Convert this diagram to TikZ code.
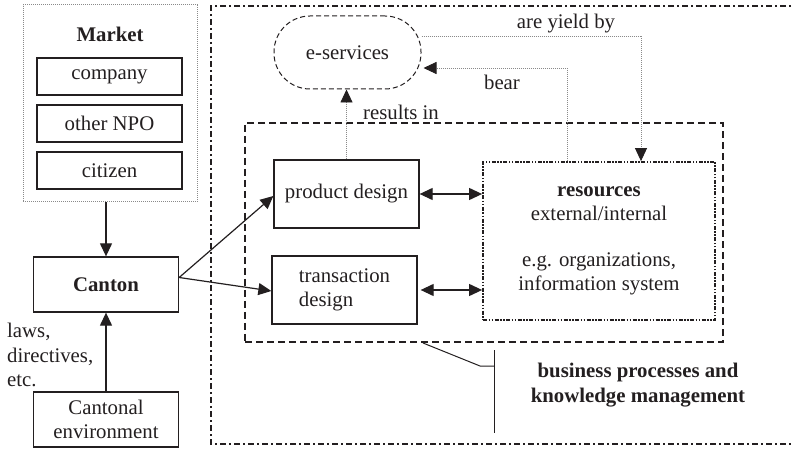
\documentclass[tikz,border=0pt]{standalone}
\usepackage{fontspec}
\setmainfont{Liberation Serif}
\usepackage{xcolor}
\definecolor{diagram-ink}{HTML}{231F20}
\definecolor{diagram-gray}{HTML}{8A8A8A}
\usetikzlibrary{arrows.meta}

\begin{document}
\begin{tikzpicture}[x=1pt, y=-1pt,
    every node/.style={font=\fontsize{20.8pt}{24.5pt}\selectfont, text=diagram-ink},
    box/.style={draw=diagram-ink, line width=1.3pt, minimum width=145pt, inner sep=0pt},
    tip/.style={-{Triangle[length=13pt, width=12pt, color=diagram-ink]}},
    arr/.style={tip, draw=diagram-ink, line width=1.2pt},
    dblarr/.style={{Triangle[length=13pt, width=12pt]}-{Triangle[length=13pt, width=12pt]}, draw=diagram-ink, line width=1.2pt},
    link/.style={tip, draw=diagram-gray, line width=0.9pt, dash pattern=on 1pt off 1pt},
]

    % Page
    \useasboundingbox (0, 0) rectangle (793, 449);

    % Frame round the organisation
    \draw[diagram-ink, line width=2pt, dash pattern=on 6pt off 3pt on 2pt off 3pt]
        (800, 6) -- (211, 6) -- (211, 444) -- (800, 444);

    % Market
    \node[draw=diagram-gray, line width=1pt, dash pattern=on 1pt off 1pt,
          minimum width=174pt, minimum height=197pt] (market) at (110, 103.5) {};
    \node[font=\fontsize{20.8pt}{24.5pt}\selectfont\bfseries] (marketlabel) at (110, 34) {Market};
    \node[box, minimum height=37pt] (company) at (109.5, 76.5) {company};
    \node[box, minimum height=37pt] (npo) at (109.5, 123.5) {other NPO};
    \node[box, minimum height=37pt] (citizen) at (109.5, 170.5) {citizen};

    % Canton and its environment
    \node[box, minimum height=55pt, font=\fontsize{20.8pt}{24.5pt}\selectfont\bfseries] (canton) at (106, 284.5) {Canton};
    \node[box, minimum height=55pt, align=center] (environment) at (106, 419.5) {Cantonal\\environment};
    \node[anchor=west, align=left, inner sep=0pt] (laws) at (7, 355) {laws,\\directives,\\etc.};

    \draw[arr] (canton.north |- market.south) -- (canton.north);
    \draw[arr] (environment.north) -- (canton.south);

    % e-services
    \node[draw=diagram-ink, line width=1pt, dash pattern=on 5pt off 3pt, rounded corners=36pt,
          minimum width=147pt, minimum height=73pt] (eservices) at (347.5, 52.5) {e-services};

    % Business processes
    \node[draw=diagram-ink, line width=2pt, dash pattern=on 7pt off 4pt,
          minimum width=478pt, minimum height=219pt] (process) at (484, 232.5) {};
    \node[box, minimum height=68pt] (product) at (346.5, 194) {product design};
    \node[box, minimum height=68pt, align=left] (transaction) at (344.5, 290) {transaction\\design};
    \node[draw=diagram-ink, line width=1.8pt,
          dash pattern=on 4pt off 1.5pt on 1.5pt off 1.5pt on 1.5pt off 1.5pt,
          minimum width=232pt, minimum height=158pt, align=center] (resources) at (599, 241)
          {\textbf{resources}\\external/internal\\[21pt]e.g. organizations,\\information system};

    \coordinate (cantonout) at ([yshift=7pt]canton.east);
    \draw[arr] (cantonout) -- ([yshift=-2pt]product.west);
    \draw[arr] (cantonout) -- ([yshift=-1pt]transaction.west);
    \draw[dblarr] (product.east) -- (product.east -| resources.west);
    \draw[dblarr] ([xshift=3pt]transaction.east) -- (transaction.east -| resources.west);

    % Dotted links
    \draw[link] (product.north) -- (product.north |- eservices.south);
    \node (resultsin) at (401, 112) {results in};
    \draw[link] ([yshift=16.5pt]eservices.east) -| ([xshift=42pt]resources.north);
    \node (yield) at (566, 24) {are yield by};
    \draw[link] ([xshift=-32pt]resources.north) |- ([xshift=2pt, yshift=-15.5pt]eservices.east);
    \node (bear) at (502, 82) {bear};

    % Bracket with caption
    \coordinate (brace) at (494, 366);
    \draw[diagram-ink, line width=1pt] (423, 343) -- (480, 366) -- (brace);
    \draw[diagram-ink, line width=1pt] (494, 350) -- (494, 433);
    \node[align=center, font=\fontsize{20.8pt}{25pt}\selectfont\bfseries] (caption) at (638, 385)
        {business processes and\\knowledge management};

\end{tikzpicture}
\end{document}
